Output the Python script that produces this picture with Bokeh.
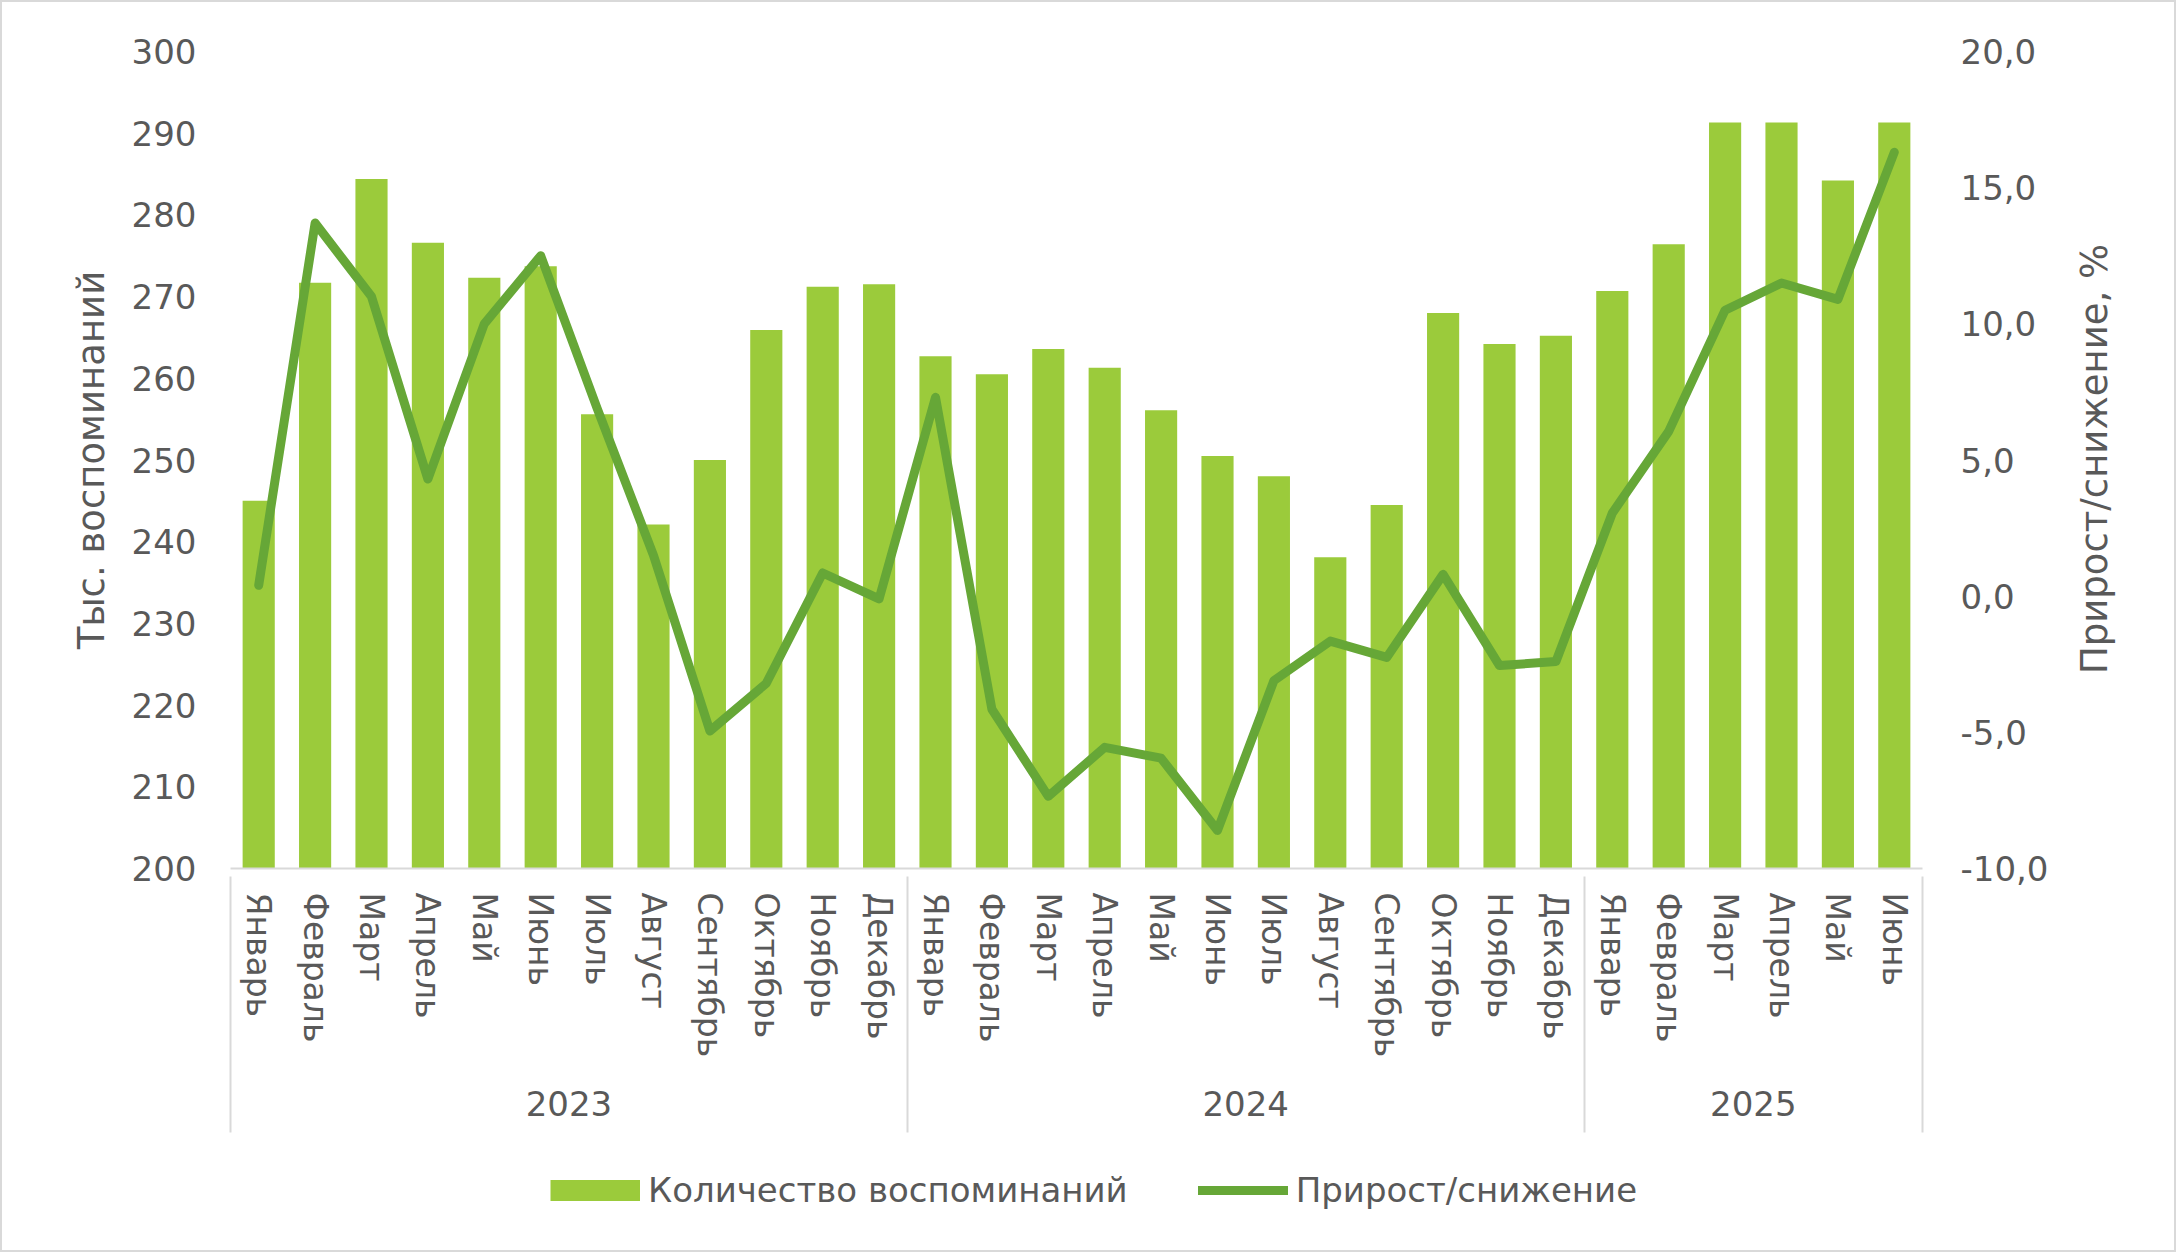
import math
from bokeh.plotting import figure
from bokeh.layouts import column, row
from bokeh.models import (Range1d, LinearAxis, FixedTicker, Legend, LegendItem,
                          ColumnDataSource)
from bokeh.core.properties import value
from bokeh.embed import file_html
from bokeh.resources import INLINE

# ---------------- data ----------------
years = ["2023", "2024", "2025"]
months_2023 = ["Январь", "Февраль", "Март", "Апрель", "Май", "Июнь", "Июль",
               "Август", "Сентябрь", "Октябрь", "Ноябрь", "Декабрь"]
months_2024 = ["Январь", "Февраль", "Март", "Апрель", "Май", "Июнь", "Июль",
               "Август", "Сентябрь", "Октябрь", "Ноябрь", "Декабрь"]
months_2025 = ["Январь", "Февраль", "Март", "Апрель", "Май", "Июнь"]

# Количество воспоминаний, тыс.
counts = [245.0, 271.7, 284.4, 276.6, 272.3, 273.7, 255.6, 242.1, 250.0, 265.9, 271.2, 271.5,
          262.7, 260.5, 263.6, 261.3, 256.1, 250.5, 248.0, 238.1, 244.5, 268.0, 264.2, 265.2,
          270.7, 276.4, 291.3, 291.3, 284.2, 291.3]
# Прирост/снижение, %
growth = [0.4, 13.7, 11.0, 4.3, 10.0, 12.5, 6.9, 1.5, -4.95, -3.2, 0.85, -0.1,
          7.3, -4.15, -7.35, -5.55, -5.95, -8.6, -3.1, -1.65, -2.25, 0.8, -2.55, -2.4,
          3.05, 6.05, 10.5, 11.5, 10.9, 16.3]

left_ticks = [200, 210, 220, 230, 240, 250, 260, 270, 280, 290, 300]
right_ticks = [-10, -5, 0, 5, 10, 15, 20]
right_tick_labels = ["-10,0", "-5,0", "0,0", "5,0", "10,0", "15,0", "20,0"]

left_title = "Тыс. воспоминаний"
right_title = "Прирост/снижение, %"
bar_name = "Количество воспоминаний"
line_name = "Прирост/снижение"

# ---------------- styles / layout ----------------
BAR = "#9BCB3B"
LINE = "#66A737"
TXT = "#595959"
AXL = "#D9D9D9"
FONT = "DejaVu Sans"
FS = "34px"
TFS = "37px"

W_TOTAL, H_TOTAL = 2172, 1248
W_MAIN, H_MAIN = 2050, 1138
FRAME_L, FRAME_R, FRAME_T, FRAME_B = 228, 1920, 49, 866

groups = [months_2023, months_2024, months_2025]
month_labels = [m for g in groups for m in g]
n = len(month_labels)
xs = list(range(n))

src = ColumnDataSource(dict(x=xs, count=counts, growth=growth))

p = figure(width=W_MAIN, height=H_MAIN, output_backend="svg", toolbar_location=None,
           x_range=Range1d(-0.5, n - 0.5), y_range=Range1d(left_ticks[0], left_ticks[-1]),
           min_border_left=FRAME_L, min_border_right=W_MAIN - FRAME_R,
           min_border_top=FRAME_T, min_border_bottom=H_MAIN - FRAME_B)
p.extra_y_ranges = {"pct": Range1d(right_ticks[0], right_ticks[-1])}
p.xgrid.visible = False
p.ygrid.visible = False
p.outline_line_color = None
p.background_fill_color = "white"
p.border_fill_color = "white"

bars = p.vbar(x="x", top="count", bottom=left_ticks[0], width=0.57, source=src,
              fill_color=BAR, line_color=None)
line_r = p.line(x="x", y="growth", y_range_name="pct", source=src, line_color=LINE,
                line_width=9, line_join="round", line_cap="round")

# left axis
la = p.yaxis[0]
la.ticker = FixedTicker(ticks=left_ticks)
la.axis_line_color = None
la.major_tick_line_color = None
la.minor_tick_line_color = None
la.major_label_text_font = FONT
la.major_label_text_font_size = FS
la.major_label_text_color = TXT
la.major_label_standoff = 28
la.axis_label = left_title
la.axis_label_text_font = FONT
la.axis_label_text_font_size = TFS
la.axis_label_text_font_style = "normal"
la.axis_label_text_color = TXT
la.axis_label_standoff = 16

# right axis
ra = LinearAxis(y_range_name="pct", ticker=FixedTicker(ticks=right_ticks),
                major_label_overrides=dict(zip(right_ticks, right_tick_labels)))
ra.axis_line_color = None
ra.major_tick_line_color = None
ra.minor_tick_line_color = None
ra.major_label_text_font = FONT
ra.major_label_text_font_size = FS
ra.major_label_text_color = TXT
ra.major_label_standoff = 32
p.add_layout(ra, "right")

# month axis
xa = p.xaxis[0]
xa.ticker = FixedTicker(ticks=xs)
xa.major_label_overrides = {i: m for i, m in zip(xs, month_labels)}
xa.major_label_orientation = "vertical"
xa.axis_line_color = AXL
xa.axis_line_width = 2
xa.major_tick_line_color = None
xa.major_tick_out = 0
xa.major_tick_in = 0
xa.minor_tick_line_color = None
xa.major_label_text_font = FONT
xa.major_label_text_font_size = "33px"
xa.major_label_text_color = TXT
xa.major_label_standoff = 24

# year axis with group separators
centers, bounds = [], [-0.5]
pos = 0
for g in groups:
    centers.append(pos + len(g) / 2 - 0.5)
    pos += len(g)
    bounds.append(pos - 0.5)
ya = LinearAxis(ticker=FixedTicker(ticks=centers, minor_ticks=bounds),
                major_label_overrides={c: y for c, y in zip(centers, years)})
ya.axis_line_color = None
ya.major_tick_line_color = None
ya.major_tick_out = 0
ya.major_tick_in = 0
ya.minor_tick_line_color = AXL
ya.minor_tick_line_width = 2
ya.minor_tick_in = 184
ya.minor_tick_out = 72
ya.major_label_text_font = FONT
ya.major_label_text_font_size = FS
ya.major_label_text_color = TXT
ya.major_label_standoff = -42
p.add_layout(ya, "below")

# right-hand axis title (reads bottom-to-top, centred on the plot area)
W_T = W_TOTAL - W_MAIN
tf = figure(width=W_T, height=H_MAIN, output_backend="svg", toolbar_location=None,
            x_range=Range1d(0, W_T), y_range=Range1d(0, H_MAIN),
            x_axis_location=None, y_axis_location=None,
            min_border_left=0, min_border_right=0, min_border_top=0, min_border_bottom=0)
tf.xgrid.visible = False
tf.ygrid.visible = False
tf.outline_line_color = None
tf.text(x=[2092 - W_MAIN], y=[H_MAIN - (FRAME_T + FRAME_B) / 2 - 110], text=[right_title],
        angle=math.pi / 2, text_align="center", text_baseline="middle",
        text_font=value(FONT), text_font_size=TFS, text_color=TXT)

# legend strip
H_L = H_TOTAL - H_MAIN
lf = figure(width=W_TOTAL, height=H_L, output_backend="svg", toolbar_location=None,
            x_range=Range1d(0, W_TOTAL), y_range=Range1d(0, H_L),
            x_axis_location=None, y_axis_location=None,
            min_border_left=0, min_border_right=0, min_border_top=0, min_border_bottom=0)
lf.xgrid.visible = False
lf.ygrid.visible = False
lf.outline_line_color = None
bar_key = lf.line(x=xs[:1], y=counts[:1], line_color=BAR, line_width=21, line_cap="butt")
line_key = lf.line(x=xs[:1], y=counts[:1], line_color=LINE, line_width=9, line_cap="round")
legend = Legend(items=[LegendItem(label=bar_name, renderers=[bar_key]),
                       LegendItem(label=line_name, renderers=[line_key])],
                orientation="horizontal", location=(548, 40),
                glyph_width=90, glyph_height=24, label_standoff=8, spacing=70,
                padding=0, margin=0, border_line_color=None, background_fill_alpha=0,
                label_text_font=FONT, label_text_font_size=FS, label_text_color=TXT)
lf.add_layout(legend, "center")

layout = column(row(p, tf, spacing=0), lf, spacing=0)
layout.styles = {"border": "2px solid #D9D9D9"}

open("out.html", "w").write(file_html(layout, INLINE))
